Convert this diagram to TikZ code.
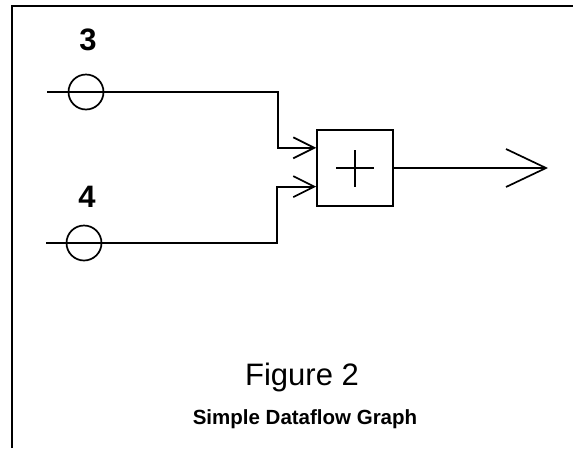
\documentclass[tikz,border=0pt]{standalone}
\usepackage{fontspec}
\setmainfont{Liberation Sans}
\usetikzlibrary{arrows.meta,calc}
\begin{document}
\begin{tikzpicture}[x=1pt,y=-1pt,
  wire/.style={line width=1.7pt},
  inport/.style={circle,draw,line width=1.7pt,minimum size=35pt,inner sep=0pt},
  opbox/.style={draw,line width=1.7pt,minimum size=76pt,inner sep=0pt},
  smallhead/.style={-{Straight Barb[length=21pt,width=21pt,line width=1.7pt]}},
  bighead/.style={-{Straight Barb[length=40pt,width=38pt,line width=1.7pt]}},
  numlabel/.style={font=\bfseries\fontsize{31}{31}\selectfont},
]
\useasboundingbox (0,0) rectangle (573,448);
% frame
\draw[line width=2.6pt] (12,448) -- (12,6) -- (573,6);
% nodes
\node[inport] (ca) at (86,92) {};
\node[inport] (cb) at (84,243) {};
\node[numlabel] (la) at (88,40) {3};
\node[numlabel] (lb) at (87,197) {4};
\node[opbox] (box) at (355,168) {};
\coordinate (inA) at (47,92);
\coordinate (inB) at (46,243);
\coordinate (turnA) at (278,0);
\coordinate (turnB) at (277,0);
\coordinate (boxA) at ($(box.north west)!0.24!(box.south west)$);
\coordinate (boxB) at ($(box.north west)!0.74!(box.south west)$);
\coordinate (out) at (548,168);
% plus sign
\draw[line width=2pt] ($(box.center)+(-19,0)$) -- ($(box.center)+(19,0)$);
\draw[line width=2pt] ($(box.center)+(0,-18)$) -- ($(box.center)+(0,19)$);
% connectors
\draw[wire,smallhead] (inA) -- (ca.center) -- (turnA |- ca.center) -- (turnA |- boxA) -- (boxA);
\draw[wire,smallhead] (inB) -- (cb.center) -- (turnB |- cb.center) -- (turnB |- boxB) -- (boxB);
\draw[wire,bighead] (box.east) -- (out);
% captions
\node[font=\fontsize{31}{31}\selectfont,anchor=base] (fig) at (302,385) {Figure 2};
\node[font=\bfseries\fontsize{20.5}{20.5}\selectfont,anchor=base] (cap) at (305,424) {Simple Dataflow Graph};
\end{tikzpicture}
\end{document}
